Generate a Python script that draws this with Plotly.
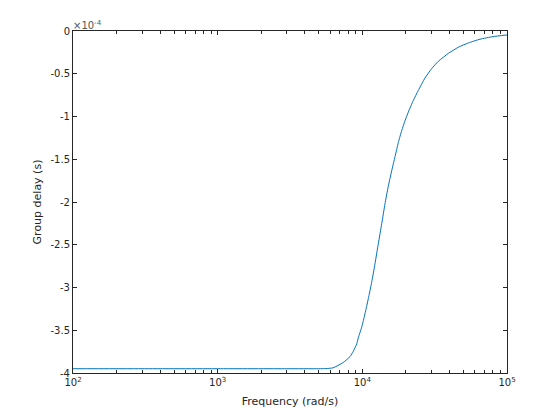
import plotly.graph_objects as go

# Frequency (rad/s) and group delay (x1e-4 s)
freq = [100, 300, 1000, 3000, 5000, 5600, 6270, 7380, 8230, 8670, 9150, 9380,
        9900, 10430, 10995, 11606, 12230, 12893, 13610, 14343, 15118, 15958,
        16823, 17730, 18716, 19725, 20790, 22510, 24370, 27110, 30150, 33500,
        39290, 46060, 54010, 65070, 80000, 100000]
delay_e4 = [-3.95, -3.95, -3.95, -3.95, -3.95, -3.948, -3.940, -3.877, -3.807,
            -3.745, -3.658, -3.588, -3.464, -3.308, -3.132, -2.938, -2.723,
            -2.489, -2.255, -2.021, -1.815, -1.635, -1.470, -1.305, -1.165,
            -1.050, -0.948, -0.812, -0.695, -0.550, -0.440, -0.355, -0.262,
            -0.190, -0.140, -0.096, -0.066, -0.046]
delay = [v * 1e-4 for v in delay_e4]

y_ticks = [0, -0.5, -1, -1.5, -2, -2.5, -3, -3.5, -4]
y_labels = ["0", "-0.5", "-1", "-1.5", "-2", "-2.5", "-3", "-3.5", "-4"]
x_ticks = [100, 1000, 10000, 100000]
x_labels = ["10<sup>2</sup>", "10<sup>3</sup>", "10<sup>4</sup>", "10<sup>5</sup>"]

axcol = "#262626"
font = dict(family="DejaVu Sans", size=10, color=axcol)

fig = go.Figure()
fig.add_trace(go.Scatter(x=freq, y=delay, mode="lines",
                         line=dict(color="#0072BD", width=1, shape="spline", smoothing=0.5),
                         hoverinfo="skip", showlegend=False))

fig.update_layout(
    width=560, height=420,
    margin=dict(l=65, r=61, t=23, b=55, pad=0),
    paper_bgcolor="white", plot_bgcolor="white",
    font=font,
    xaxis=dict(type="log", range=[2, 5], tickvals=x_ticks, ticktext=x_labels,
               ticks="inside", ticklen=4, tickcolor=axcol, tickwidth=1,
               showline=True, linecolor=axcol, linewidth=1, mirror="ticks",
               showgrid=False, zeroline=False, tickfont=font,
               minor=dict(ticks="inside", ticklen=3, tickcolor=axcol,
                          dtick="D1", showgrid=False),
               title=dict(text="Frequency (rad/s)", font=dict(family="DejaVu Sans", size=11, color=axcol),
                          standoff=10)),
    yaxis=dict(range=[-4e-4, 0], tickvals=[v * 1e-4 for v in y_ticks], ticktext=y_labels,
               ticks="inside", ticklen=4, tickcolor=axcol, tickwidth=1,
               showline=True, linecolor=axcol, linewidth=1, mirror="ticks",
               showgrid=False, zeroline=False, tickfont=font,
               title=dict(text="Group delay (s)", font=dict(family="DejaVu Sans", size=11, color=axcol),
                          standoff=6)),
    annotations=[dict(text="×10<sup>-4</sup>", x=0, y=1, xref="paper", yref="paper",
                      xanchor="left", yanchor="bottom", showarrow=False,
                      font=dict(family="DejaVu Sans", size=10, color="#555555"),
                      xshift=-2, yshift=-2)],
)

fig.write_html("out.html")
